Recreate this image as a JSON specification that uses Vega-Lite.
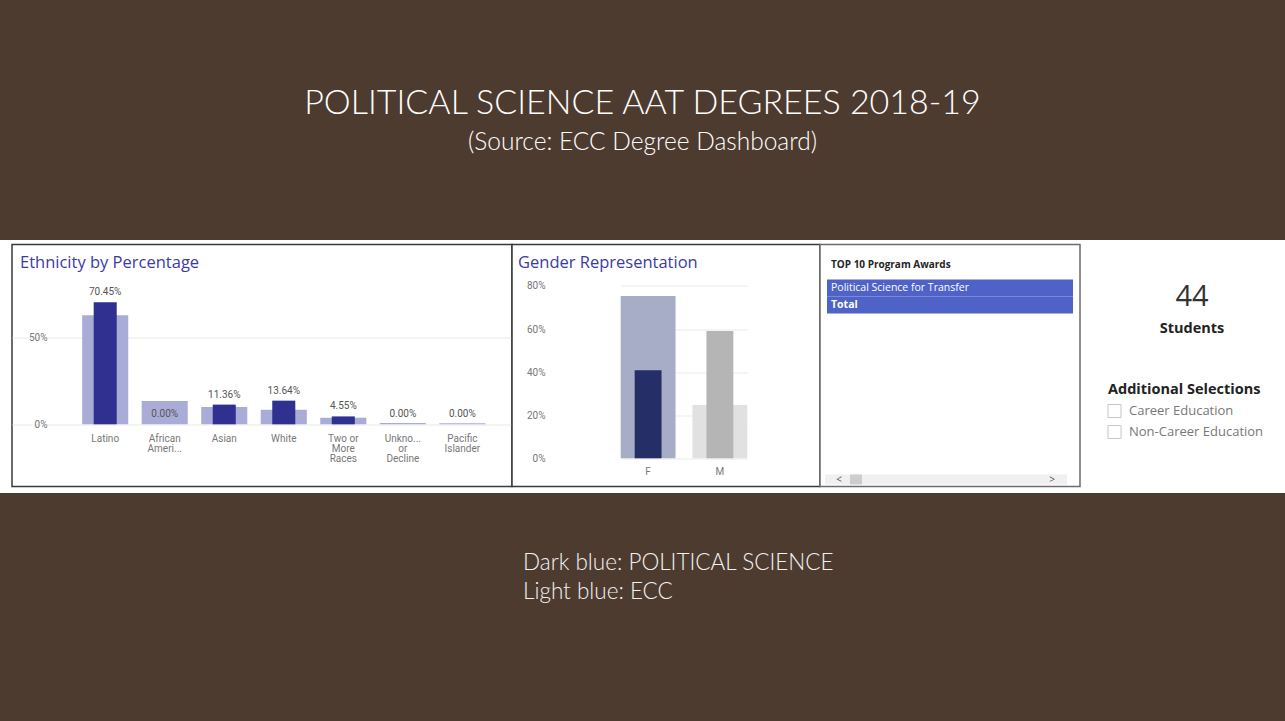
{
  "$schema": "https://vega.github.io/schema/vega-lite/v6.json",
  "background": "white",
  "padding": 0,
  "spacing": 3.5,
  "bounds": "full",
  "config": {
    "view": {"stroke": null},
    "font": "Open Sans",
    "axis": {"labelFont": "Roboto", "labelColor": "#777777", "labelFontSize": 10, "domain": false, "ticks": false, "tickSize": 0, "gridColor": "#e9e9e9", "labelOverlap": false, "labelBound": false},
    "title": {"font": "Open Sans", "fontWeight": "normal"}
  },
  "vconcat": [
    {
      "width": 1285,
      "height": 240,
      "view": {"fill": "#4e3b30", "stroke": null},
      "data": {"values": [
        {"kind": "title", "line": "POLITICAL SCIENCE AAT DEGREES 2018-19"},
        {"kind": "subtitle", "line": "(Source: ECC Degree Dashboard)"}
      ]},
      "encoding": {
        "y": {"field": "kind", "type": "nominal", "axis": null, "scale": {"type": "point", "domain": ["title", "subtitle"], "range": [104, 143], "padding": 0}},
        "text": {"field": "line"}
      },
      "layer": [
        {"transform": [{"filter": "datum.kind === 'title'"}], "mark": {"type": "text", "font": "Lato", "fontSize": 34, "fontWeight": 300, "color": "#ffffff", "baseline": "middle"}},
        {"transform": [{"filter": "datum.kind === 'subtitle'"}], "mark": {"type": "text", "font": "Lato", "fontSize": 24.5, "fontWeight": 300, "color": "#ffffff", "baseline": "middle"}}
      ]
    },
    {
      "spacing": 0,
      "bounds": "flush",
      "hconcat": [
        {
          "width": 12,
          "height": 242,
          "data": {"values": [{}]},
          "mark": {"type": "text", "text": ""}
        },
        {
          "width": 500,
          "height": 242,
          "view": {"stroke": "#3a3a3a", "strokeWidth": 1.5, "fill": "white"},
          "title": {"text": "Ethnicity by Percentage", "anchor": "start", "frame": "group", "offset": -27, "dx": 8, "fontSize": 16.5, "color": "#3b3ba6", "font": "Open Sans"},
          "data": {"values": [
            {"ethnicity": "Latino", "ecc": 0.629, "polisci": 0.7045},
            {"ethnicity": "African American", "ecc": 0.134, "polisci": 0.0},
            {"ethnicity": "Asian", "ecc": 0.10, "polisci": 0.1136},
            {"ethnicity": "White", "ecc": 0.084, "polisci": 0.1364},
            {"ethnicity": "Two or More Races", "ecc": 0.038, "polisci": 0.0455},
            {"ethnicity": "Unknown or Decline", "ecc": 0.008, "polisci": 0.0},
            {"ethnicity": "Pacific Islander", "ecc": 0.006, "polisci": 0.0}
          ]},
          "encoding": {
            "x": {"field": "ethnicity", "type": "nominal", "sort": null,
              "scale": {"paddingInner": 0.226, "paddingOuter": 0.813, "align": 0.725},
              "axis": {"orient": "bottom", "offset": -62, "labelPadding": 9, "labelAngle": 0, "title": null, "labelLineHeight": 10,
                "labelExpr": "datum.label == 'African American' ? ['African', 'Ameri...'] : datum.label == 'Two or More Races' ? ['Two or', 'More', 'Races'] : datum.label == 'Unknown or Decline' ? ['Unkno...', 'or', 'Decline'] : datum.label == 'Pacific Islander' ? ['Pacific', 'Islander'] : datum.label"}}
          },
          "layer": [
            {"mark": {"type": "bar", "color": "#a9acd7"},
             "encoding": {"y": {"field": "ecc", "type": "quantitative", "scale": {"domain": [-0.359, 1.0375], "nice": false, "zero": false},
               "axis": {"values": [0, 0.5], "format": ".0%", "grid": true, "offset": -35, "labelPadding": 0, "title": null}}}},
            {"mark": {"type": "bar", "color": "#303091", "width": {"band": 0.5}},
             "encoding": {"y": {"field": "polisci", "type": "quantitative", "axis": {"title": null}}}},
            {"mark": {"type": "text", "dy": -7, "baseline": "alphabetic", "fontSize": 10, "color": "#555555", "font": "Roboto"},
             "encoding": {"y": {"field": "polisci", "type": "quantitative", "axis": {"title": null}}, "text": {"field": "polisci", "type": "quantitative", "format": ".2%"}}}
          ]
        },
        {
          "width": 308,
          "height": 242,
          "view": {"stroke": "#3a3a3a", "strokeWidth": 1.5, "fill": "white"},
          "title": {"text": "Gender Representation", "anchor": "start", "frame": "group", "offset": -27, "dx": 6, "fontSize": 16.5, "color": "#3b3ba6", "font": "Open Sans"},
          "data": {"values": [
            {"gender": "F", "ecc": 0.753, "polisci": 0.4091},
            {"gender": "M", "ecc": 0.247, "polisci": 0.5909}
          ]},
          "encoding": {
            "x": {"field": "gender", "type": "nominal", "sort": null,
              "scale": {"range": [108.7, 235.3], "paddingInner": 0.236, "paddingOuter": 0},
              "axis": {"orient": "bottom", "offset": -28.2, "labelPadding": 8, "labelAngle": 0, "title": null}}
          },
          "layer": [
            {"mark": {"type": "bar"},
             "encoding": {
               "y": {"field": "ecc", "type": "quantitative", "scale": {"domain": [-0.131, 0.9926], "nice": false, "zero": false},
                 "axis": {"values": [0, 0.2, 0.4, 0.6, 0.8], "format": ".0%", "grid": true, "offset": -33, "labelPadding": 0, "title": null}},
               "color": {"condition": {"test": "datum.gender === 'F'", "value": "#a7adc7"}, "value": "#e1e1e1"}}},
            {"mark": {"type": "bar", "width": {"band": 0.49}},
             "encoding": {
               "y": {"field": "polisci", "type": "quantitative", "axis": {"title": null}},
               "color": {"condition": {"test": "datum.gender === 'F'", "value": "#252e67"}, "value": "#b4b5b4"}}}
          ]
        },
        {
          "width": 260,
          "height": 242,
          "view": {"stroke": "#6b6b6b", "strokeWidth": 1.5, "fill": "white"},
          "title": {"text": "TOP 10 Program Awards", "anchor": "start", "frame": "group", "offset": -25, "dx": 11, "fontSize": 10, "fontWeight": "bold", "color": "#252525", "font": "Open Sans"},
          "resolve": {"scale": {"x": "independent", "y": "independent"}},
          "layer": [
            {"data": {"values": [
               {"row": "Political Science for Transfer", "kind": "program"},
               {"row": "Total", "kind": "total"}
             ]},
             "layer": [
               {"mark": {"type": "rect", "color": "#4e62c8"},
                "encoding": {
                  "x": {"datum": "Program", "type": "nominal", "axis": null, "scale": {"range": [7, 253], "paddingInner": 0, "paddingOuter": 0}},
                  "y": {"field": "row", "type": "nominal", "axis": null, "scale": {"domain": ["Political Science for Transfer", "Total"], "range": [35, 69], "paddingInner": 0, "paddingOuter": 0}}}},
               {"transform": [{"filter": "datum.kind === 'program'"}],
                "mark": {"type": "text", "align": "left", "dx": 4, "color": "white", "fontSize": 10.5, "font": "Open Sans"},
                "encoding": {
                  "x": {"datum": "Program", "type": "nominal", "bandPosition": 0, "axis": null},
                  "y": {"field": "row", "type": "nominal", "axis": null},
                  "text": {"field": "row"}}},
               {"transform": [{"filter": "datum.kind === 'total'"}],
                "mark": {"type": "text", "align": "left", "dx": 4, "color": "white", "fontSize": 10.5, "fontWeight": "bold", "font": "Open Sans"},
                "encoding": {
                  "x": {"datum": "Program", "type": "nominal", "bandPosition": 0, "axis": null},
                  "y": {"field": "row", "type": "nominal", "axis": null},
                  "text": {"field": "row"}}}
             ]},
            {"data": {"values": [{"part": "track"}]},
             "mark": {"type": "rect", "color": "#f0f0f0"},
             "encoding": {
               "x": {"field": "part", "type": "nominal", "axis": null, "scale": {"range": [5, 247], "paddingInner": 0, "paddingOuter": 0}},
               "y": {"field": "part", "type": "nominal", "axis": null, "scale": {"range": [230, 240], "paddingInner": 0, "paddingOuter": 0}}}},
            {"data": {"values": [{"part": "thumb"}]},
             "mark": {"type": "rect", "color": "#cdcdcd"},
             "encoding": {
               "x": {"field": "part", "type": "nominal", "axis": null, "scale": {"range": [30, 42], "paddingInner": 0, "paddingOuter": 0}},
               "y": {"field": "part", "type": "nominal", "axis": null, "scale": {"range": [230, 240], "paddingInner": 0, "paddingOuter": 0}}}},
            {"data": {"values": [{"arrow": "<"}, {"arrow": ">"}]},
             "mark": {"type": "text", "color": "#555555", "fontSize": 10, "font": "Open Sans", "baseline": "middle"},
             "encoding": {
               "x": {"field": "arrow", "type": "nominal", "axis": null, "scale": {"type": "point", "domain": ["<", ">"], "range": [19, 232], "padding": 0}},
               "y": {"datum": "scroll", "type": "nominal", "axis": null, "scale": {"type": "point", "range": [235, 235], "padding": 0}},
               "text": {"field": "arrow"}}}
          ]
        },
        {
          "width": 205,
          "height": 245,
          "title": {"text": "44", "subtitle": "Students", "anchor": "middle", "frame": "group", "offset": -91, "dx": 9.5, "fontSize": 29, "color": "#333333", "font": "Open Sans", "subtitleFont": "Open Sans", "subtitleFontSize": 14.5, "subtitleFontWeight": "bold", "subtitleColor": "#222222", "subtitlePadding": 10},
          "layer": [
            {"data": {"values": [{"heading": "Additional Selections"}]},
             "mark": {"type": "text", "align": "left", "dx": -6.5, "fontSize": 14.5, "fontWeight": "bold", "color": "#222222", "font": "Open Sans"},
             "encoding": {
               "x": {"datum": "box", "type": "nominal", "axis": null, "scale": {"type": "point", "domain": ["box", "label"], "range": [34.5, 49], "padding": 0}},
               "y": {"field": "heading", "type": "nominal", "axis": null, "scale": {"type": "point", "domain": ["Additional Selections", "Career Education", "Non-Career Education"], "range": [145.5, 187.5], "padding": 0}},
               "text": {"field": "heading"}}},
            {"data": {"values": [{"option": "Career Education"}, {"option": "Non-Career Education"}]},
             "mark": {"type": "point", "shape": "square", "size": 169, "filled": false, "stroke": "#c6c6c6", "strokeWidth": 1, "opacity": 1},
             "encoding": {
               "x": {"datum": "box", "type": "nominal", "axis": null},
               "y": {"field": "option", "type": "nominal", "axis": null}}},
            {"data": {"values": [{"option": "Career Education"}, {"option": "Non-Career Education"}]},
             "mark": {"type": "text", "align": "left", "fontSize": 13, "color": "#777777", "font": "Open Sans"},
             "encoding": {
               "x": {"datum": "label", "type": "nominal", "axis": null},
               "y": {"field": "option", "type": "nominal", "axis": null},
               "text": {"field": "option"}}}
          ]
        }
      ]
    },
    {
      "width": 1285,
      "height": 229,
      "view": {"fill": "#4e3b30", "stroke": null},
      "data": {"values": [
        {"kind": "dark", "line": "Dark blue:  POLITICAL SCIENCE"},
        {"kind": "light", "line": "Light blue:  ECC"}
      ]},
      "mark": {"type": "text", "font": "Lato", "fontSize": 22.5, "fontWeight": 300, "color": "#f2f2f2", "align": "left", "baseline": "middle", "dx": -119.5},
      "encoding": {
        "y": {"field": "kind", "type": "nominal", "axis": null, "scale": {"type": "point", "domain": ["dark", "light"], "range": [70, 99], "padding": 0}},
        "text": {"field": "line"}
      }
    }
  ]
}
